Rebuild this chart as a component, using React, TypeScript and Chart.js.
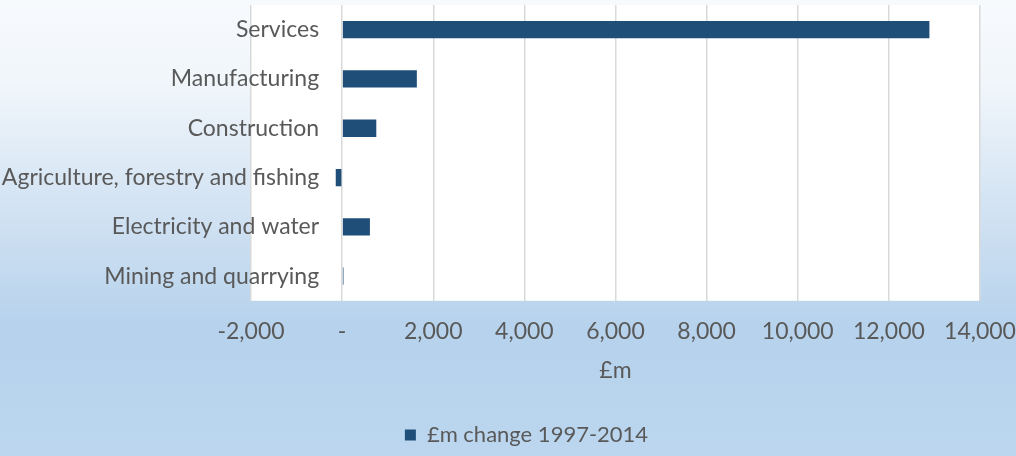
import React, { useEffect, useRef } from "react";
import { Chart, registerables } from "chart.js";

Chart.register(...registerables);

const categories = [
  "Services",
  "Manufacturing",
  "Construction",
  "Agriculture, forestry and fishing",
  "Electricity and water",
  "Mining and quarrying",
];
const changeValues = [12890, 1640, 750, -140, 610, 30];
const seriesLabel = "£m change 1997-2014";
const axisTitle = "£m";
const xMin = -2000;
const xMax = 14000;
const xStep = 2000;
// value on the x axis where the category labels end (Excel "next to axis" labels)
const labelAnchor = -505;

const FONT = "Lato, 'Open Sans', sans-serif";
const TEXT = "#595959";
const FS = 23;

const bgPlugin = {
  id: "bg",
  beforeDraw(chart: any) {
    const { ctx, width, height, chartArea } = chart;
    ctx.save();
    const g = ctx.createLinearGradient(0, 0, 0, height);
    g.addColorStop(0, "#f7fafd");
    g.addColorStop(0.18, "#f1f6fb");
    g.addColorStop(0.45, "#d3e3f3");
    g.addColorStop(0.72, "#b6d2ec");
    g.addColorStop(1, "#bbd6ee");
    ctx.fillStyle = g;
    ctx.fillRect(0, 0, width, height);
    ctx.fillStyle = "#ffffff";
    ctx.fillRect(chartArea.left, chartArea.top, chartArea.right - chartArea.left, chartArea.bottom - chartArea.top);
    ctx.restore();
  },
};

const zeroPad = (scale: any) => {
  scale.paddingTop = 0;
  scale.paddingBottom = 0;
  scale.paddingLeft = 0;
  scale.paddingRight = 0;
};

const spacer = (position: string, w: number) => ({
  type: "linear",
  position,
  display: true,
  ticks: { display: false },
  grid: { display: false, drawTicks: false },
  border: { display: false },
  afterFit: (s: any) => {
    s.width = w;
    zeroPad(s);
  },
});

export default function App() {
  const ref = useRef<HTMLCanvasElement | null>(null);
  useEffect(() => {
    document.body.style.margin = "0";
    const chart = new Chart(ref.current as HTMLCanvasElement, {
      type: "bar",
      data: {
        labels: categories,
        datasets: [
          {
            label: seriesLabel,
            data: changeValues,
            backgroundColor: "#1f4e79",
            borderWidth: 0,
            barPercentage: 0.7,
            categoryPercentage: 0.5,
          },
        ],
      },
      plugins: [bgPlugin],
      options: {
        indexAxis: "y",
        animation: false,
        responsive: false,
        layout: { padding: { left: 37, right: 0, top: 5, bottom: 0 } },
        scales: {
          x: {
            min: xMin,
            max: xMax,
            afterFit: zeroPad,
            ticks: {
              stepSize: xStep,
              color: TEXT,
              font: { family: FONT, size: FS },
              padding: 17,
              maxRotation: 0,
              callback: (v: any) => (Number(v) === 0 ? "-" : Number(v).toLocaleString("en-GB")),
            },
            grid: { color: "#d9d9d9", lineWidth: 1.5, drawTicks: false },
            border: { display: false },
            title: {
              display: true,
              text: axisTitle,
              color: TEXT,
              font: { family: FONT, size: FS },
              padding: { top: -6, bottom: 33 },
            },
          },
          y: {
            position: { x: labelAnchor } as any,
            afterFit: zeroPad,
            ticks: {
              color: TEXT,
              font: { family: FONT, size: FS },
              padding: 0,
            },
            grid: { display: false, drawTicks: false },
            border: { display: false },
          },
          padLeft: spacer("left", 214) as any,
          padRight: spacer("right", 36) as any,
        },
        plugins: {
          legend: {
            position: "bottom",
            labels: {
              color: TEXT,
              font: { family: FONT, size: 22 },
              boxWidth: 11,
              boxHeight: 11,
              padding: 7,
            },
          },
          tooltip: { enabled: false },
        },
      },
    });
    return () => chart.destroy();
  }, []);
  return (
    <div style={{ width: 1016, height: 456 }}>
      <canvas ref={ref} width={1016} height={456} />
    </div>
  );
}
